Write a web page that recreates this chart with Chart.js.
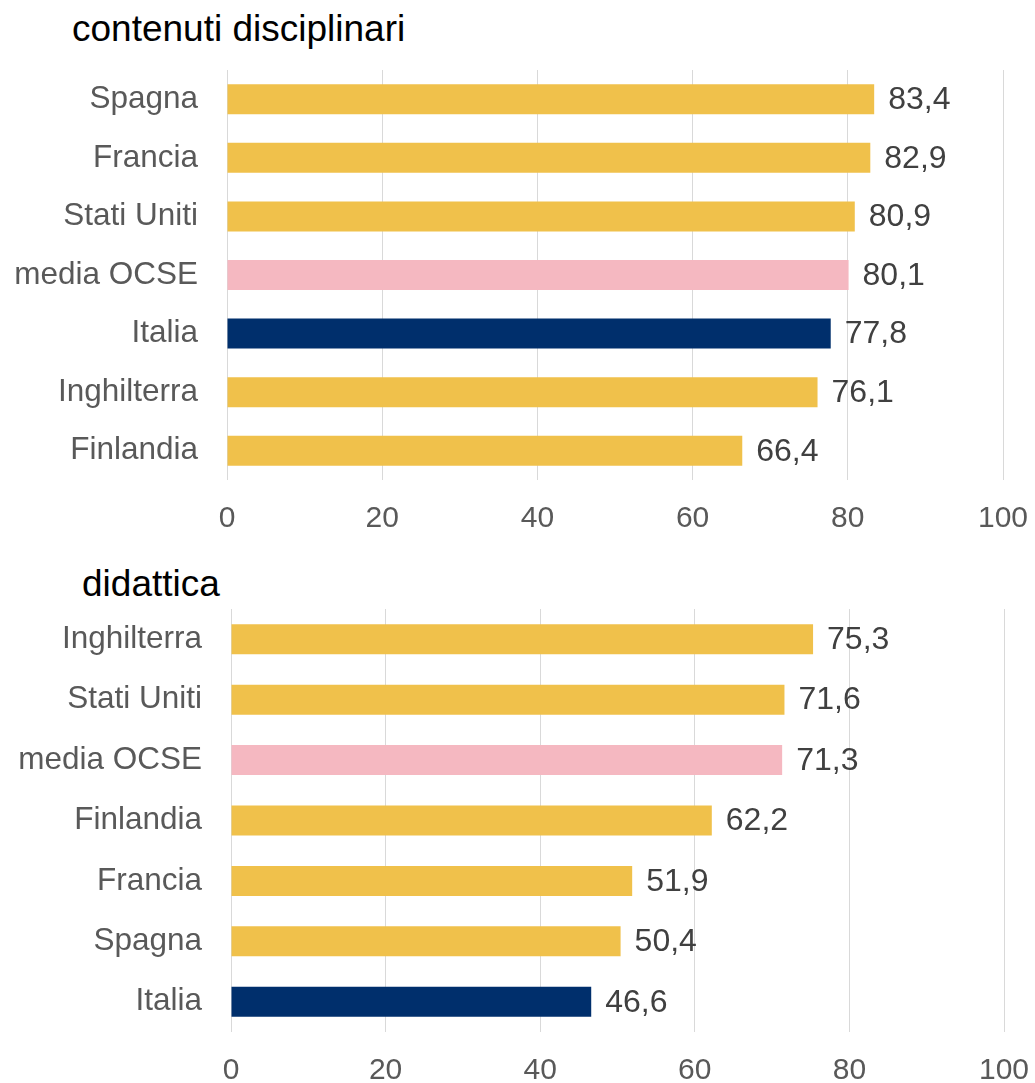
<!DOCTYPE html>
<html>
<head>
<meta charset="utf-8">
<script src="https://cdn.jsdelivr.net/npm/chart.js@4.4.1/dist/chart.umd.min.js"></script>
<style>
  html, body { margin: 0; padding: 0; background: #ffffff; }
  body { width: 1035px; height: 1083px; position: relative; overflow: hidden; font-family: "Liberation Sans", Arial, sans-serif; }
  .title { position: absolute; font-size: 37px; color: #000000; white-space: nowrap; line-height: 1; }
  canvas { position: absolute; left: 0; }
</style>
</head>
<body>
<div class="title" id="t1" style="left:72px; top:10px;"></div>
<div class="title" id="t2" style="left:82px; top:565px;"></div>
<canvas id="c1" width="1035" height="540" style="top:0px;"></canvas>
<canvas id="c2" width="1035" height="543" style="top:540px;"></canvas>
<script>
const title1 = "contenuti disciplinari";
const categories1 = ["Spagna", "Francia", "Stati Uniti", "media OCSE", "Italia", "Inghilterra", "Finlandia"];
const values1 = [83.4, 82.9, 80.9, 80.1, 77.8, 76.1, 66.4];

const title2 = "didattica";
const categories2 = ["Inghilterra", "Stati Uniti", "media OCSE", "Finlandia", "Francia", "Spagna", "Italia"];
const values2 = [75.3, 71.6, 71.3, 62.2, 51.9, 50.4, 46.6];

const xTicks = [0, 20, 40, 60, 80, 100];

const GOLD = "#F0C14B", PINK = "#F5B8C1", NAVY = "#002F6C";
function colorFor(c) { return c === "Italia" ? NAVY : (c === "media OCSE" ? PINK : GOLD); }

document.getElementById("t1").textContent = title1;
document.getElementById("t2").textContent = title2;

const FONT = "'Liberation Sans', Arial, sans-serif";

const valueLabels = {
  id: "valueLabels",
  afterDatasetsDraw(chart) {
    const ctx = chart.ctx;
    ctx.save();
    ctx.font = "32px " + FONT;
    ctx.fillStyle = "#404040";
    ctx.textAlign = "left";
    ctx.textBaseline = "middle";
    const meta = chart.getDatasetMeta(0);
    meta.data.forEach((el, i) => {
      const v = chart.data.datasets[0].data[i];
      ctx.fillText(v.toFixed(1).replace(".", ","), el.x + 14, el.y + 1);
    });
    ctx.restore();
  }
};

function makeChart(id, cats, vals, padTop, yWidth, xHeight, barPct, padRight) {
  return new Chart(document.getElementById(id), {
    type: "bar",
    data: {
      labels: cats,
      datasets: [{
        data: vals,
        backgroundColor: cats.map(colorFor),
        borderWidth: 0,
        categoryPercentage: 1,
        barPercentage: barPct
      }]
    },
    options: {
      indexAxis: "y",
      responsive: false,
      animation: false,
      layout: { padding: { top: padTop, right: padRight, left: 0, bottom: 0 } },
      plugins: { legend: { display: false }, tooltip: { enabled: false }, title: { display: false } },
      scales: {
        x: {
          min: 0, max: 100,
          afterBuildTicks(scale) { scale.ticks = xTicks.map(v => ({ value: v })); },
          afterFit(scale) { scale.height = xHeight; scale.paddingLeft = 0; scale.paddingRight = 0; },
          grid: { color: "#D9D9D9", lineWidth: 1, drawTicks: false },
          border: { display: false },
          ticks: { padding: 21, color: "#595959", font: { family: FONT, size: 30 } }
        },
        y: {
          afterFit(scale) { scale.width = yWidth; scale.paddingTop = 0; scale.paddingBottom = 0; },
          grid: { display: false, drawTicks: false },
          border: { display: false },
          ticks: { padding: 29, color: "#595959", font: { family: FONT, size: 31.5 } }
        }
      }
    },
    plugins: [valueLabels]
  });
}

makeChart("c1", categories1, values1, 70, 227, 60, 0.512, 32);
makeChart("c2", categories2, values2, 69, 231, 51, 0.497, 31);
</script>
</body>
</html>
